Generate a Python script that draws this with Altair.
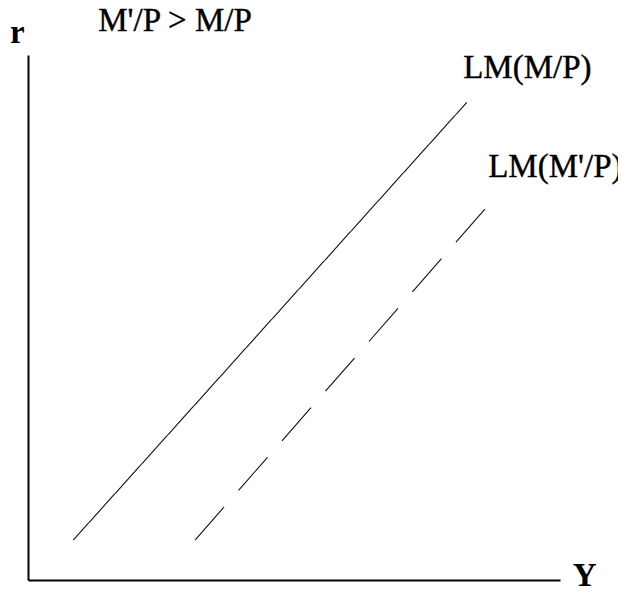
import altair as alt
import pandas as pd

# LM curves (Y on x-axis, r on y-axis)
lm1_Y = [8.5, 82.5]
lm1_r = [7.6, 91.0]
lm2_Y = [31.4, 87.4]
lm2_r = [7.6, 72.4]

label_text = ["r", "M'/P > M/P", "LM(M/P)", "LM(M'/P)", "Y"]
label_Y = [-3.4, 13.2, 81.8, 86.5, 102.4]
label_r = [102.3, 104.5, 95.6, 76.8, -1.2]

lines = pd.DataFrame({
    "Y": lm1_Y + lm2_Y,
    "r": lm1_r + lm2_r,
    "curve": ["LM(M/P)"] * 2 + ["LM(M'/P)"] * 2,
})
labels = pd.DataFrame({"text": label_text, "Y": label_Y, "r": label_r})

xs = alt.Scale(domain=[0, 100])
ys = alt.Scale(domain=[0, 100])
xax = alt.Axis(title=None, labels=False, ticks=False, grid=False,
               domainColor="black", domainWidth=2)

base_line = alt.Chart(lines).mark_line(color="#111", strokeWidth=1.1).encode(
    x=alt.X("Y:Q", scale=xs, axis=xax),
    y=alt.Y("r:Q", scale=ys, axis=xax),
    detail="curve:N",
    strokeDash=alt.StrokeDash(
        "curve:N",
        scale=alt.Scale(domain=["LM(M/P)", "LM(M'/P)"], range=[[1, 0], [44, 22]]),
        legend=None,
    ),
)

font = "Times New Roman, Liberation Serif, serif"
enc = dict(x=alt.X("Y:Q", scale=xs), y=alt.Y("r:Q", scale=ys), text="text:N")
is_axis_name = "datum.text == 'r' || datum.text == 'Y'"

text_regular = alt.Chart(labels).transform_filter(f"!({is_axis_name})").mark_text(
    font=font, fontSize=33, align="left", baseline="alphabetic", color="black",
    stroke="black", strokeWidth=0.4,
).encode(**enc)

text_bold = alt.Chart(labels).transform_filter(is_axis_name).mark_text(
    font=font, fontSize=33, fontWeight="bold", align="left",
    baseline="alphabetic", color="black",
).encode(**enc)

chart = (base_line + text_regular + text_bold).properties(
    width=532, height=525,
    autosize=alt.AutoSizeParams(type="none"),
    padding={"left": 20, "top": 47, "right": 58, "bottom": 11},
).configure_view(stroke=None)

chart.save("out.html", embed_options={"renderer": "svg", "actions": False})
